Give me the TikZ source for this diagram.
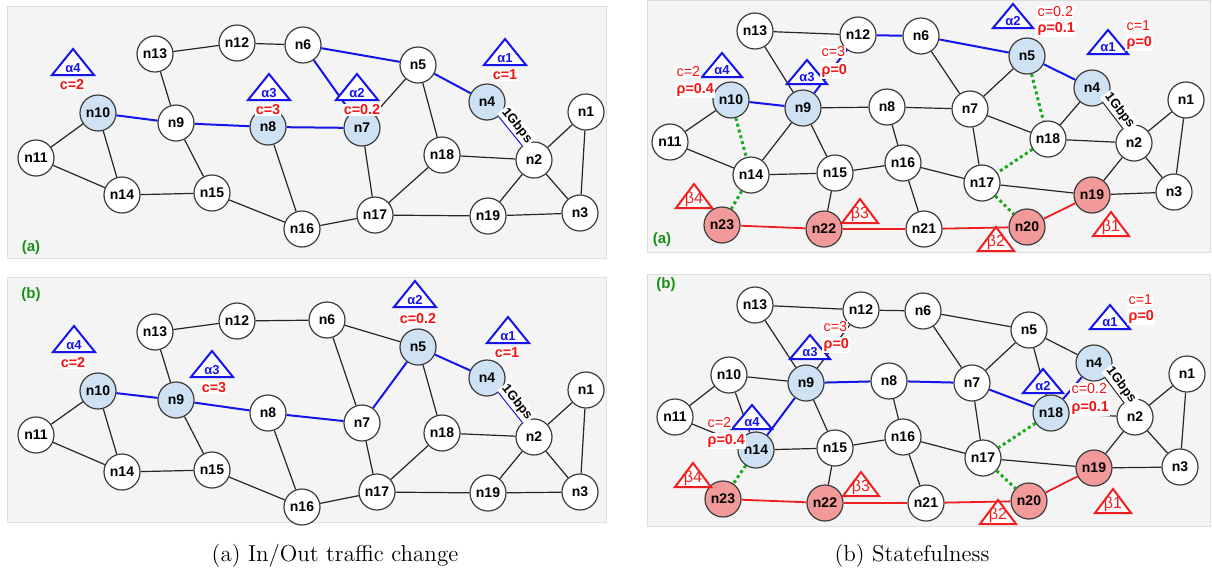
\documentclass[tikz,border=0pt]{standalone}
\usepackage{fontspec}
\setsansfont{Liberation Sans}
\definecolor{panelbg}{RGB}{244,244,244}
\definecolor{panelline}{RGB}{222,222,222}
\definecolor{ndline}{RGB}{60,60,60}
\definecolor{hlblue}{RGB}{207,226,243}
\definecolor{hlred}{RGB}{242,153,153}
\definecolor{pathblue}{RGB}{20,20,235}
\definecolor{pathred}{RGB}{240,30,30}
\definecolor{dotgreen}{RGB}{30,170,30}
\definecolor{lblred}{RGB}{245,20,20}
\tikzset{
    nd/.style={circle, draw=ndline, line width=0.6pt, minimum size=18pt, inner sep=0pt,
        font=\sffamily\bfseries\fontsize{7}{7}\selectfont},
    wn/.style={nd, fill=white},
    bn/.style={nd, fill=hlblue},
    rn/.style={nd, fill=hlred},
    ln/.style={line width=0.6pt, draw=black!85},
    bl/.style={line width=1pt, draw=pathblue},
    thinbl/.style={line width=0.6pt, draw=pathblue},
    rl/.style={line width=0.9pt, draw=pathred},
    gl/.style={line width=1.5pt, draw=dotgreen, dash pattern=on 1.5pt off 1.5pt},
    panel/.style={fill=panelbg, draw=panelline, line width=0.5pt},
    gbps/.style={midway, sloped, above, fill=white, inner sep=0.8pt,
        font=\sffamily\bfseries\fontsize{6.5}{6.5}\selectfont},
    atri/.style={draw=pathblue, fill=white, line width=1pt},
    btri/.style={draw=pathred, fill=white, line width=1pt},
    alab/.style={text=pathblue, inner sep=0pt, font=\sffamily\bfseries\fontsize{6.5}{6.5}\selectfont},
    blab/.style={text=pathred, inner sep=0pt, font=\sffamily\fontsize{8}{8}\selectfont},
    cbold/.style={fill=white, text=lblred, inner sep=0.6pt, font=\sffamily\bfseries\fontsize{7.2}{7.2}\selectfont},
    creg/.style={fill=white, text=lblred, inner sep=0.6pt, anchor=west, font=\sffamily\fontsize{7.2}{7.2}\selectfont},
    rbold/.style={cbold, anchor=west},
    tag/.style={text=dotgreen!85!black, inner sep=0pt, font=\sffamily\bfseries\fontsize{7.5}{8}\selectfont},
}
\begin{document}
\begin{tikzpicture}[x=0.5pt, y=-0.5pt]
    \useasboundingbox (0,0) rectangle (1212,574);
    \draw [panel] (7,6) rectangle (606,258);
    \draw [panel] (7,277) rectangle (606,522);
    \draw [panel] (647,0) rectangle (1210,252);
    \draw [panel] (647,274) rectangle (1210,526);

    % (a) in/out traffic change, top
    \foreach \n/\x/\y/\s in {1/586/112/wn, 2/534/160/wn, 3/580/213/wn, 4/487/102/bn, 5/418/65/wn,
        6/303/45/wn, 7/362/128/bn, 8/268/127/bn, 9/176/123/wn, 10/98/113/bn, 11/36/158/wn,
        12/237/43/wn, 13/155/54/wn, 14/122/195/wn, 15/212/193/wn, 16/302/229/wn,
        17/375/215/wn, 18/442/155/wn, 19/488/216/wn} {
        \node [\s] (a\n) at (\x,\y) {n\n};
    }
    \foreach \i/\j in {13/12, 12/6, 13/9, 10/11, 10/14, 11/14, 14/15, 9/15, 15/16, 8/16, 16/17,
        7/17, 5/7, 5/18, 18/17, 18/2, 2/1, 2/3, 2/19, 1/3, 17/19, 19/3} {
        \draw [ln] (a\i) -- (a\j);
    }
    \foreach \i/\j in {10/9, 9/8, 8/7, 7/6, 6/5, 5/4} {
        \draw [bl] (a\i) -- (a\j);
    }
    \draw [thinbl] (a4) -- node [gbps] (ga) {1Gbps} (a2);
    \foreach \x/\y/\k in {73/62/4, 269/87/3, 357/87/2, 505/52/1} {
        \draw [atri] (\x-21,\y+13) -- (\x,\y-13) -- (\x+21,\y+13) -- cycle;
        \node [alab] (ta\k) at (\x,\y+6) {α\k};
    }
    \foreach \x/\y/\t/\k in {72/85/2/4, 268/110/3/3, 362/110/0.2/2, 505/75/1/1} {
        \node [cbold] (ca\k) at (\x,\y) {c=\t};
    }
    \node [tag] (taga) at (31,248) {(a)};

    % (a) in/out traffic change, bottom
    \foreach \n/\x/\y/\s in {1/586/390/wn, 2/534/437/wn, 3/580/492/wn, 4/487/378/bn, 5/418/347/bn,
        6/327/320/wn, 7/362/423/wn, 8/268/413/wn, 9/176/400/bn, 10/98/391/bn, 11/36/435/wn,
        12/237/321/wn, 13/155/332/wn, 14/122/472/wn, 15/212/470/wn, 16/302/507/wn,
        17/377/492/wn, 18/442/433/wn, 19/488/493/wn} {
        \node [\s] (b\n) at (\x,\y) {n\n};
    }
    \foreach \i/\j in {13/12, 12/6, 13/9, 10/11, 10/14, 11/14, 14/15, 9/15, 15/16, 8/16, 16/17,
        7/17, 6/7, 6/5, 5/18, 18/17, 18/2, 2/1, 2/3, 2/19, 1/3, 17/19, 19/3} {
        \draw [ln] (b\i) -- (b\j);
    }
    \foreach \i/\j in {10/9, 9/8, 8/7, 7/5, 5/4} {
        \draw [bl] (b\i) -- (b\j);
    }
    \draw [thinbl] (b4) -- node [gbps] (gb) {1Gbps} (b2);
    \foreach \x/\y/\k in {74/339/4, 212/364/3, 415/294/2, 508/330/1} {
        \draw [atri] (\x-21,\y+13) -- (\x,\y-13) -- (\x+21,\y+13) -- cycle;
        \node [alab] (tb\k) at (\x,\y+6) {α\k};
    }
    \foreach \x/\y/\t/\k in {73/363/2/4, 214/388/3/3, 418/319/0.2/2, 507/353/1/1} {
        \node [cbold] (cb\k) at (\x,\y) {c=\t};
    }
    \node [tag] (tagb) at (31,295) {(b)};

    % (b) statefulness, top
    \foreach \n/\x/\y/\s in {1/1186/100/wn, 2/1134/143/wn, 3/1174/192/wn, 4/1092/88/bn,
        5/1027/56/bn, 6/921/36/wn, 7/970/109/wn, 8/887/107/wn, 9/803/108/bn, 10/731/100/bn,
        11/670/142/wn, 12/858/35/wn, 13/755/31/wn, 14/751/175/wn, 15/835/173/wn,
        16/903/163/wn, 17/982/183/wn, 18/1048/139/wn, 19/1092/195/rn, 20/1027/227/rn,
        21/924/229/wn, 22/824/229/rn, 23/722/225/rn} {
        \node [\s] (c\n) at (\x,\y) {n\n};
    }
    \foreach \i/\j in {13/12, 13/9, 10/11, 11/14, 9/14, 9/8, 9/15, 14/15, 15/16, 15/22, 8/7,
        8/16, 16/21, 16/17, 6/7, 7/5, 7/18, 7/17, 4/18, 18/2, 2/1, 2/3, 2/19, 1/3, 17/19, 19/3} {
        \draw [ln] (c\i) -- (c\j);
    }
    \foreach \i/\j in {10/9, 9/12, 12/6, 6/5, 5/4} {
        \draw [bl] (c\i) -- (c\j);
    }
    \foreach \i/\j in {10/14, 14/23, 5/18, 18/17, 17/20} {
        \draw [gl] (c\i) -- (c\j);
    }
    \foreach \i/\j in {23/22, 22/21, 21/20, 20/19} {
        \draw [rl] (c\i) -- (c\j);
    }
    \draw [ln] (c4) -- node [gbps] (gc) {1Gbps} (c2);
    \foreach \x/\y/\k in {722/65/4, 807/72/3, 1013/16/2, 1108/42/1} {
        \draw [atri] (\x-20,\y+12) -- (\x,\y-12) -- (\x+20,\y+12) -- cycle;
        \node [alab] (tc\k) at (\x,\y+5) {α\k};
    }
    \foreach \x/\y/\k in {694/196/4, 860/211/3, 996/239/2, 1111/224/1} {
        \draw [btri] (\x-18,\y+12) -- (\x,\y-12) -- (\x+18,\y+12) -- cycle;
        \node [blab] (bc\k) at (\x,\y+3) {β\k};
    }
    \foreach \x/\y/\t/\k in {675/72/2/4, 820/52/3/3, 1036/12/0.2/2, 1125/26/1/1} {
        \node [creg] (cc\k) at (\x,\y) {c=\t};
    }
    \foreach \x/\y/\t/\k in {675/90/0.4/4, 820/71/0/3, 1036/29/0.1/2, 1125/43/0/1} {
        \node [rbold] (rc\k) at (\x,\y) {ρ=\t};
    }
    \node [tag] (tagc) at (662,240) {(a)};

    % (b) statefulness, bottom
    \foreach \n/\x/\y/\s in {1/1187/374/wn, 2/1135/417/wn, 3/1180/467/wn, 4/1094/363/bn,
        5/1029/330/wn, 6/923/311/wn, 7/972/383/wn, 8/889/381/wn, 9/806/383/bn, 10/729/375/wn,
        11/675/417/wn, 12/861/310/wn, 13/755/305/wn, 14/756/450/bn, 15/835/448/wn,
        16/903/437/wn, 17/983/458/wn, 18/1051/413/bn, 19/1094/468/rn, 20/1029/501/rn,
        21/926/503/wn, 22/825/503/rn, 23/723/499/rn} {
        \node [\s] (d\n) at (\x,\y) {n\n};
    }
    \foreach \i/\j in {13/12, 12/6, 6/5, 5/4, 6/7, 5/7, 5/18, 13/9, 12/9, 10/9, 10/11, 10/14,
        11/14, 9/15, 14/15, 15/16, 15/22, 8/16, 16/21, 16/17, 7/17, 18/2, 2/1, 2/3, 2/19, 1/3,
        17/19, 19/3} {
        \draw [ln] (d\i) -- (d\j);
    }
    \foreach \i/\j in {14/9, 9/8, 8/7, 7/18, 18/4} {
        \draw [bl] (d\i) -- (d\j);
    }
    \foreach \i/\j in {14/23, 18/17, 17/20} {
        \draw [gl] (d\i) -- (d\j);
    }
    \foreach \i/\j in {23/22, 22/21, 21/20, 20/19} {
        \draw [rl] (d\i) -- (d\j);
    }
    \draw [ln] (d4) -- node [gbps] (gd) {1Gbps} (d2);
    \foreach \x/\y/\k in {752/417/4, 810/347/3, 1043/381/2, 1110/317/1} {
        \draw [atri] (\x-20,\y+12) -- (\x,\y-12) -- (\x+20,\y+12) -- cycle;
        \node [alab] (td\k) at (\x,\y+5) {α\k};
    }
    \foreach \x/\y/\k in {693/475/4, 861/484/3, 998/512/2, 1113/501/1} {
        \draw [btri] (\x-18,\y+12) -- (\x,\y-12) -- (\x+18,\y+12) -- cycle;
        \node [blab] (bd\k) at (\x,\y+3) {β\k};
    }
    \foreach \x/\y/\t/\k in {706/423/2/4, 822/327/3/3, 1070/389/0.2/2, 1127/300/1/1} {
        \node [creg] (cd\k) at (\x,\y) {c=\t};
    }
    \foreach \x/\y/\t/\k in {706/441/0.4/4, 822/345/0/3, 1070/408/0.1/2, 1127/317/0/1} {
        \node [rbold] (rd\k) at (\x,\y) {ρ=\t};
    }
    \node [tag] (tagd) at (666,285) {(b)};

    \node [font=\fontsize{11.5}{13}\selectfont] (capa) at (335,556) {(a)\ In/Out traffic change};
    \node [font=\fontsize{11.5}{13}\selectfont] (capb) at (912,556) {(b) Statefulness};
\end{tikzpicture}
\end{document}
